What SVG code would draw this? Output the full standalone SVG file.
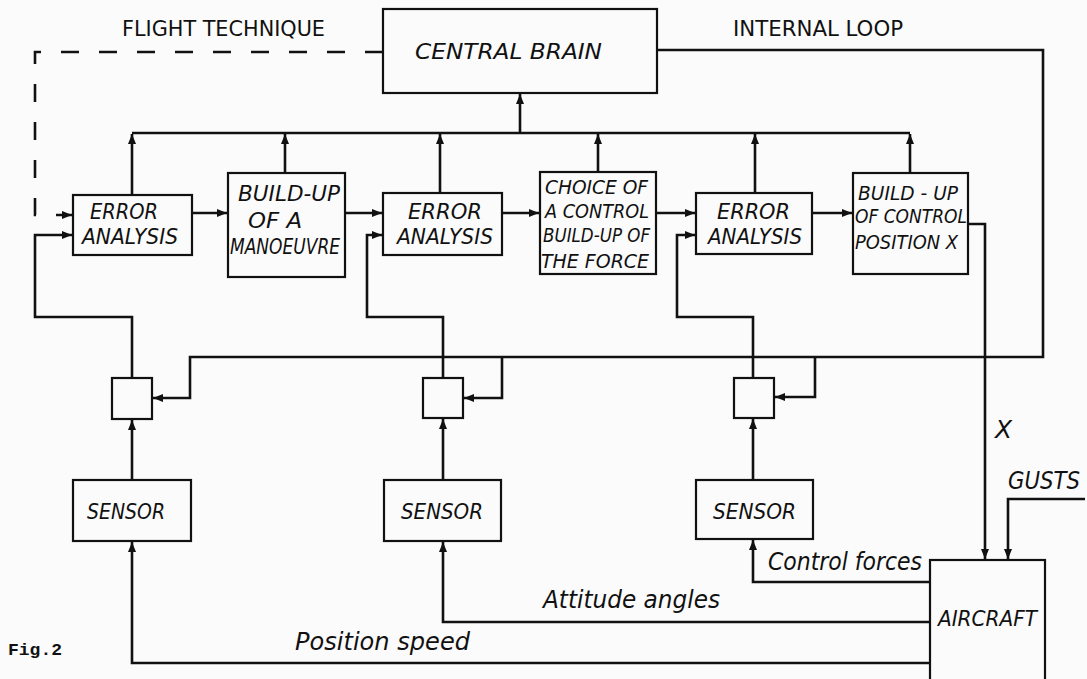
<svg xmlns="http://www.w3.org/2000/svg" width="1087" height="679" viewBox="0 0 1087 679">
<style>
.bg{fill:#fbfbfb}
.box{fill:none;stroke:#111;stroke-width:2.2}
.ln{fill:none;stroke:#111;stroke-width:2.6;stroke-linejoin:miter}
.arr{marker-end:url(#ah)}
.dash{fill:none;stroke:#111;stroke-width:2.6;stroke-dasharray:18 20}
text{font-family:"DejaVu Sans Condensed","Liberation Sans Narrow","Liberation Sans",sans-serif;fill:#111}
.i{font-style:italic;font-size:21px}
.s{font-size:19px}
.u{font-size:22px}
.cb{font-size:22px}
.lab{font-style:italic;font-size:25px}
.fig{font-family:"Liberation Mono","DejaVu Sans Mono",monospace;font-size:17px;font-weight:bold}
</style>
<defs>
<marker id="ah" viewBox="0 0 10 8" refX="10" refY="4" markerWidth="11" markerHeight="8" markerUnits="userSpaceOnUse" orient="auto">
<path d="M0,0 L10,4 L0,8 Z" fill="#111"/>
</marker>
</defs>
<rect class="bg" x="0" y="0" width="1087" height="679"/>

<text class="u" x="122" y="36" textLength="203" lengthAdjust="spacingAndGlyphs">FLIGHT  TECHNIQUE</text>
<text class="u" x="733" y="36" textLength="170" lengthAdjust="spacingAndGlyphs">INTERNAL  LOOP</text>

<g id="central-brain">
<rect class="box" x="383" y="9" width="274" height="84"/>
<text class="i cb" x="415" y="59" textLength="187" lengthAdjust="spacingAndGlyphs">CENTRAL  BRAIN</text>
</g>
<g id="error-analysis-1">
<rect class="box" x="73" y="195" width="119" height="60"/>
<text class="i" x="90" y="219" textLength="68" lengthAdjust="spacingAndGlyphs">ERROR</text>
<text class="i" x="82" y="244" textLength="96" lengthAdjust="spacingAndGlyphs">ANALYSIS</text>
</g>
<g id="build-up-manoeuvre">
<rect class="box" x="228" y="173" width="117" height="104"/>
<text class="i" x="238" y="201" textLength="102" lengthAdjust="spacingAndGlyphs">BUILD-UP</text>
<text class="i" x="248" y="228" textLength="54" lengthAdjust="spacingAndGlyphs">OF A</text>
<text class="i" x="230" y="254" textLength="110" lengthAdjust="spacingAndGlyphs">MANOEUVRE</text>
</g>
<g id="error-analysis-2">
<rect class="box" x="383" y="193" width="119" height="62"/>
<text class="i" x="408" y="219" textLength="74" lengthAdjust="spacingAndGlyphs">ERROR</text>
<text class="i" x="397" y="244" textLength="96" lengthAdjust="spacingAndGlyphs">ANALYSIS</text>
</g>
<g id="choice-of-control">
<rect class="box" x="540" y="172" width="116" height="102"/>
<text class="i s" x="545" y="194" textLength="103" lengthAdjust="spacingAndGlyphs">CHOICE  OF</text>
<text class="i s" x="545" y="218" textLength="104" lengthAdjust="spacingAndGlyphs">A CONTROL</text>
<text class="i s" x="543" y="242" textLength="107" lengthAdjust="spacingAndGlyphs">BUILD-UP OF</text>
<text class="i s" x="541" y="268" textLength="108" lengthAdjust="spacingAndGlyphs">THE  FORCE</text>
</g>
<g id="error-analysis-3">
<rect class="box" x="696" y="193" width="116" height="61"/>
<text class="i" x="717" y="219" textLength="73" lengthAdjust="spacingAndGlyphs">ERROR</text>
<text class="i" x="708" y="244" textLength="94" lengthAdjust="spacingAndGlyphs">ANALYSIS</text>
</g>
<g id="build-up-control-position">
<rect class="box" x="853" y="173" width="115" height="101"/>
<text class="i s" x="858" y="200" textLength="100" lengthAdjust="spacingAndGlyphs">BUILD - UP</text>
<text class="i s" x="855" y="223" textLength="112" lengthAdjust="spacingAndGlyphs">OF CONTROL</text>
<text class="i s" x="855" y="249" textLength="103" lengthAdjust="spacingAndGlyphs">POSITION  X</text>
</g>
<g id="junction-1"><rect class="box" x="112" y="378" width="40" height="41"/></g>
<g id="junction-2"><rect class="box" x="423" y="378" width="40" height="40"/></g>
<g id="junction-3"><rect class="box" x="734" y="378" width="40" height="40"/></g>
<g id="sensor-1">
<rect class="box" x="73" y="480" width="118" height="61"/>
<text class="i" x="87" y="519" textLength="78" lengthAdjust="spacingAndGlyphs">SENSOR</text>
</g>
<g id="sensor-2">
<rect class="box" x="384" y="480" width="117" height="61"/>
<text class="i" x="401" y="519" textLength="82" lengthAdjust="spacingAndGlyphs">SENSOR</text>
</g>
<g id="sensor-3">
<rect class="box" x="696" y="480" width="117" height="59"/>
<text class="i" x="713" y="519" textLength="83" lengthAdjust="spacingAndGlyphs">SENSOR</text>
</g>
<g id="aircraft">
<rect class="box" x="930" y="560" width="115" height="135"/>
<text class="i" x="938" y="626" textLength="99" lengthAdjust="spacingAndGlyphs">AIRCRAFT</text>
</g>

<g id="connectors">
<path class="dash arr" d="M383,52 H35 V215 H72"/>
<path class="ln arr" d="M657,50 H1043 V357 H190 V398 H153"/>
<path class="ln arr" d="M502,357 V398 H464"/>
<path class="ln arr" d="M815,357 V397 H775"/>
<path class="ln" d="M132,133 H910"/>
<path class="ln arr" d="M132,195 V134"/>
<path class="ln arr" d="M285,173 V134"/>
<path class="ln arr" d="M440,193 V134"/>
<path class="ln arr" d="M598,172 V134"/>
<path class="ln arr" d="M755,193 V134"/>
<path class="ln arr" d="M910,173 V134"/>
<path class="ln arr" d="M520,133 V94"/>
<path class="ln arr" d="M192,213 H227"/>
<path class="ln arr" d="M345,213 H382"/>
<path class="ln arr" d="M502,213 H539"/>
<path class="ln arr" d="M656,213 H695"/>
<path class="ln arr" d="M812,213 H852"/>
<path class="ln arr" d="M132,480 V420"/>
<path class="ln arr" d="M132,378 V317 H35 V235 H72"/>
<path class="ln arr" d="M443,480 V419"/>
<path class="ln arr" d="M443,378 V317 H367 V235 H382"/>
<path class="ln arr" d="M753,480 V419"/>
<path class="ln arr" d="M753,378 V317 H677 V235 H695"/>
<path class="ln arr" d="M930,663 H132 V542"/>
<path class="ln arr" d="M930,622 H443 V542"/>
<path class="ln arr" d="M930,582 H753 V540"/>
<path class="ln arr" d="M968,224 H985 V559"/>
<path class="ln arr" d="M1085,499 H1008 V559"/>
</g>

<text class="lab" x="995" y="438" textLength="17" lengthAdjust="spacingAndGlyphs">X</text>
<text class="lab" x="1008" y="489" textLength="72" lengthAdjust="spacingAndGlyphs">GUSTS</text>
<text class="lab" x="768" y="570" textLength="154" lengthAdjust="spacingAndGlyphs">Control forces</text>
<text class="lab" x="543" y="608" textLength="177" lengthAdjust="spacingAndGlyphs">Attitude angles</text>
<text class="lab" x="295" y="650" textLength="175" lengthAdjust="spacingAndGlyphs">Position  speed</text>
<text class="fig" x="8" y="655" textLength="54" lengthAdjust="spacingAndGlyphs">Fig.2</text>
</svg>
